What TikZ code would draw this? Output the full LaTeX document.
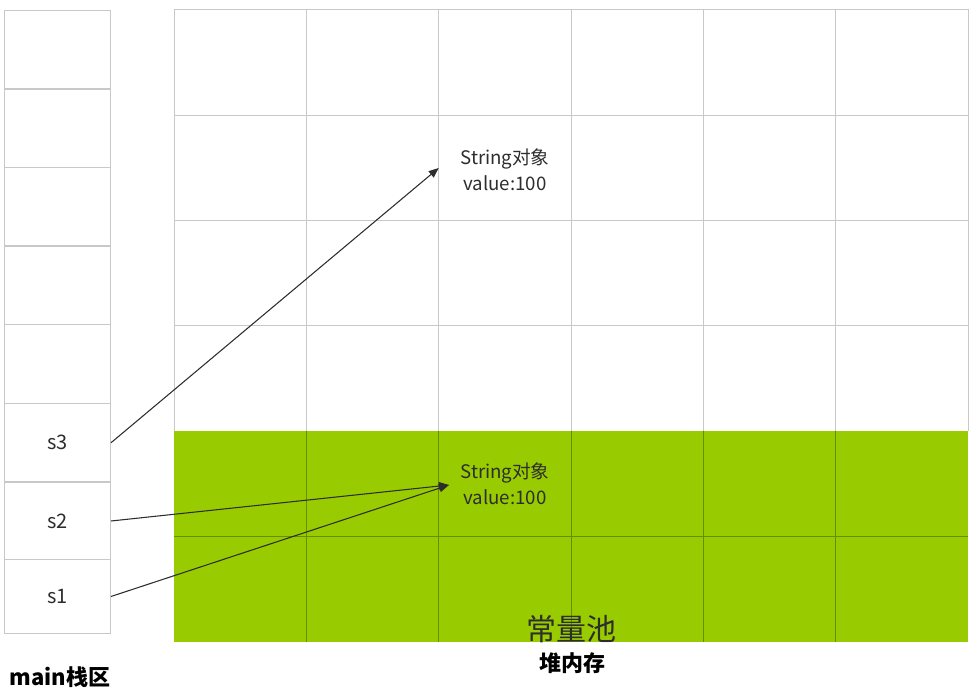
\documentclass[tikz,border=0pt]{standalone}
\usepackage{fontspec}
\setmainfont{Noto Sans CJK SC}
\usetikzlibrary{arrows.meta}
\definecolor{poolgreen}{RGB}{153,204,0}
\definecolor{gridgray}{RGB}{200,200,200}
\definecolor{poolline}{RGB}{105,140,0}
\definecolor{txtgray}{RGB}{45,45,45}

\begin{document}
\begin{tikzpicture}[x=0.75pt,y=-0.75pt,>={Triangle[length=7.5pt,width=6pt]},
		line width=0.75pt]
		\tikzstyle{cell}=[draw=gridgray,minimum width=79.5pt,anchor=north west,inner sep=0pt,
			text=txtgray,font=\fontsize{15}{18}\selectfont]
		\tikzstyle{object}=[align=center,text=txtgray,font=\fontsize{14}{19.5}\selectfont]
		\tikzstyle{ref}=[->,draw=txtgray,line width=0.8pt]
		\useasboundingbox (0,0) rectangle (979,698);
		
		% main stack
		\foreach \i/\y in {1/10,2/88.5,3/167,4/245.5,5/324.5}
			\node[cell,minimum height=58.9pt] (Stack\i) at (4,\y) {};
		\node[cell,minimum height=58.9pt]	(S3) at (4,403) {s3};
		\node[cell,minimum height=58.5pt]	(S2) at (4,481.5) {s2};
		\node[cell,minimum height=54.75pt]	(S1) at (4,559.5) {s1};
		\node[font=\bfseries\fontsize{16.5}{18}\selectfont] (StackTitle) at (60,677) {main栈区};
		
		% heap and constant pool
		\fill[poolgreen] (174,431.3) rectangle (968,642);
		\foreach \x in {306.3,438.7,571,703.3,835.7}
			\draw[gridgray] (\x,10) -- (\x,431.3);
		\foreach \y in {115.3,220.7,326}
			\draw[gridgray] (174,\y) -- (968,\y);
		\draw[gridgray] (174,431.3) -- (174,10) -- (968,10) -- (968,431.3);
		\foreach \x in {306.3,438.7,571,703.3,835.7}
			\draw[poolline] (\x,431.3) -- (\x,642);
		\draw[poolline] (174,536.7) -- (968,536.7);
		
		\node[object] (HeapObj) at (505,170) {String对象\\value:100};
		\node[object] (PoolObj) at (505,484) {String对象\\value:100};
		\coordinate (HeapIn) at (438.7,168);
		\coordinate (PoolIn) at (449,485);
		\node[text=txtgray,font=\fontsize{22.5}{26}\selectfont] (PoolTitle) at (571,629) {常量池};
		\node[font=\bfseries\fontsize{16.5}{18}\selectfont] (HeapTitle) at (572,663) {堆内存};
		
		\draw[ref] (S3.east) -- (HeapIn);
		\draw[ref] (S2.east) -- (PoolIn);
		\draw[ref] (S1.east) -- (PoolIn);
\end{tikzpicture}
\end{document}
